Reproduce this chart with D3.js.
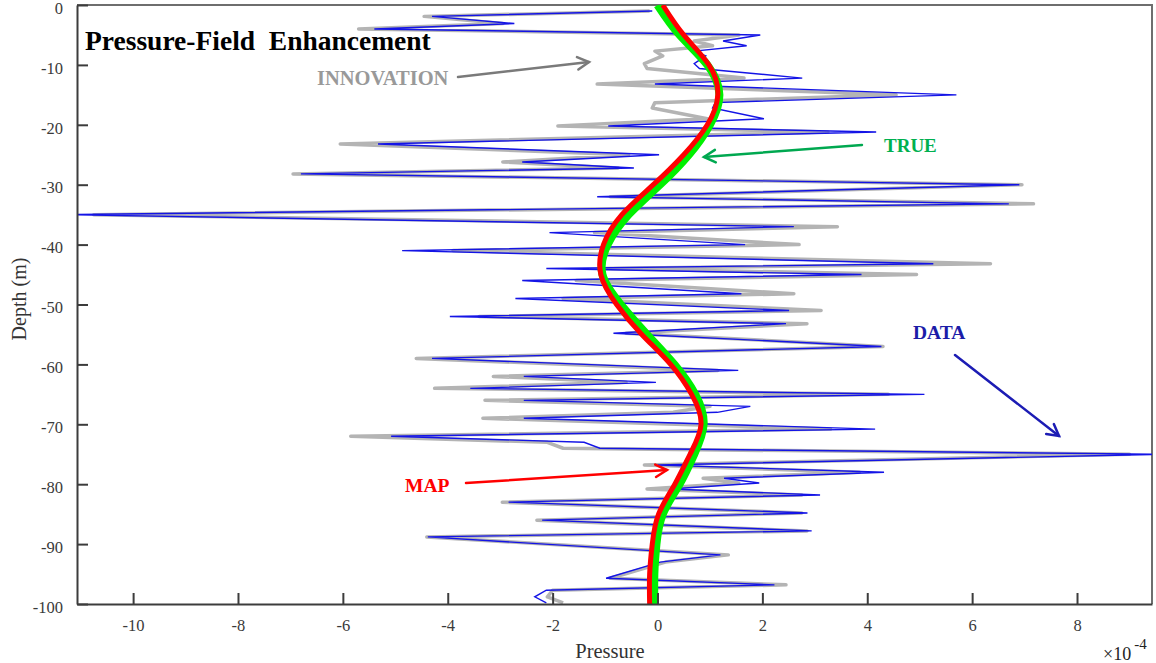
<!DOCTYPE html>
<html>
<head>
<meta charset="utf-8">
<script src="https://cdn.jsdelivr.net/npm/d3@7/dist/d3.min.js"></script>
<style>
  body { margin: 0; background: #fff; }
  svg { display: block; font-family: "Liberation Serif", "DejaVu Serif", serif; }
  .axis path, .axis line { stroke: #3c3c3c; stroke-width: 2; }
</style>
</head>
<body>
<div id="chart"></div>
<script>
var W = 1156, H = 663;

// measurement depths (m) and pressure (x 1e-4)
var depths = [-1.0,-1.9,-3.1,-4.0,-5.0,-6.0,-6.8,-7.7,-8.5,-9.8,-10.6,-12.2,-13.2,-15.0,-16.3,-17.2,-19.0,-20.2,-21.2,-23.2,
  -25.0,-26.2,-27.2,-28.2,-30.0,-32.0,-33.2,-35.0,-37.0,-38.0,-40.0,-41.0,-43.2,-44.0,-45.0,-46.0,-48.2,-49.0,-51.0,-52.0,
  -53.2,-54.8,-57.0,-59.0,-61.0,-62.0,-63.0,-64.0,-65.0,-66.0,-67.0,-68.0,-69.0,-70.8,-72.0,-73.0,-74.0,-75.0,-76.8,-78.0,
  -79.0,-79.8,-80.8,-81.8,-83.0,-84.8,-86.0,-87.8,-88.8,-91.8,-93.0,-95.7,-96.8,-97.7,-98.8,-99.8];
var dataVals = [-0.10,-4.30,-2.73,-5.40,1.96,1.25,1.70,0.70,0.92,0.70,0.80,2.76,-0.05,5.70,1.10,1.05,2.03,-0.94,4.17,-5.33,
  0.03,-2.58,-0.45,-6.80,6.90,-1.15,6.70,-11.30,2.60,-2.06,1.67,-4.87,5.26,-2.12,3.89,-2.58,1.60,-2.71,2.51,-3.96,
  2.45,-0.84,4.27,-4.30,1.54,-2.55,-0.03,-3.57,5.09,-2.55,1.77,1.14,-2.55,4.15,-5.08,-1.40,-1.10,9.60,0.00,4.32,
  1.27,1.94,0.24,3.10,-2.84,2.86,-2.20,2.94,-4.38,1.20,0.05,-0.98,2.23,-2.12,-2.34,-2.12];
var innovVals = [-0.15,-4.45,-2.95,-5.70,1.55,0.70,1.05,-0.05,0.10,-0.25,-0.20,1.65,-1.15,4.55,-0.05,-0.10,0.95,-1.90,3.25,-6.05,
  -0.55,-2.95,-0.75,-6.95,6.95,-0.90,7.17,-10.75,3.43,-1.20,2.70,-3.90,6.35,-1.05,4.94,-1.55,2.60,-1.80,3.12,-3.40,
  2.85,-0.60,4.30,-4.60,1.15,-3.13,-0.60,-4.25,4.40,-3.29,1.00,0.30,-3.33,3.30,-5.85,-2.10,-1.80,9.00,-0.25,3.85,
  0.87,1.55,-0.20,2.75,-2.96,2.75,-2.30,2.85,-4.40,1.35,0.15,-0.90,2.45,-2.00,-2.10,-1.80];

// smooth profiles
var curveDepths = [0,-5,-10,-15,-20,-25,-30,-35,-40,-45,-50,-55,-60,-65,-70,-75,-80,-85,-90,-95,-100];
var trueVals = [0.00,0.42,0.95,1.18,1.00,0.60,0.05,-0.55,-0.95,-1.05,-0.70,-0.20,0.32,0.72,0.88,0.70,0.42,0.10,-0.02,-0.06,-0.06];
var mapVals  = [0.10,0.50,0.98,1.15,0.95,0.50,-0.08,-0.68,-1.03,-1.08,-0.78,-0.30,0.25,0.65,0.83,0.62,0.33,0.02,-0.10,-0.15,-0.15];

var xTicks = [-10,-8,-6,-4,-2,0,2,4,6,8];
var yTicks = [0,-10,-20,-30,-40,-50,-60,-70,-80,-90,-100];

var svg = d3.select("#chart").append("svg")
  .attr("width", W)
  .attr("height", H);

var x = d3.scaleLinear().domain([-11.07, 9.43]).range([77, 1152]);
var y = d3.scaleLinear().domain([0, -100]).range([5, 604]);

svg.append("clipPath").attr("id", "clip")
  .append("rect")
  .attr("x", 77).attr("y", 5)
  .attr("width", 1152 - 77).attr("height", 604 - 5);

// frame (top and right)
svg.append("path")
  .attr("d", "M77,5H1152V604")
  .attr("fill", "none")
  .attr("stroke", "#6e6e6e")
  .attr("stroke-width", 2);

var plot = svg.append("g").attr("clip-path", "url(#clip)");

var pts = function(vals, ds){ return vals.map(function(v, i){ return [v, ds[i]]; }); };

var zig = d3.line()
  .x(function(d){ return x(d[0]); })
  .y(function(d){ return y(d[1]); });

var smooth = d3.line()
  .x(function(d){ return x(d[0]); })
  .y(function(d){ return y(d[1]); })
  .curve(d3.curveNatural);

plot.append("path")
  .datum(pts(innovVals, depths))
  .attr("d", zig)
  .attr("fill", "none")
  .attr("stroke", "#b4b4b4")
  .attr("stroke-width", 3.5)
  .attr("stroke-linejoin", "round");

plot.append("path")
  .datum(pts(dataVals, depths))
  .attr("d", zig)
  .attr("fill", "none")
  .attr("stroke", "#1414e6")
  .attr("stroke-width", 1.4);

plot.append("path")
  .datum(pts(trueVals, curveDepths))
  .attr("d", smooth)
  .attr("fill", "none")
  .attr("stroke", "#00f000")
  .attr("stroke-width", 8);

plot.append("path")
  .datum(pts(mapVals, curveDepths))
  .attr("d", smooth)
  .attr("fill", "none")
  .attr("stroke", "#ff0000")
  .attr("stroke-width", 5);

// axes
var fmt = function(d){ return String(d); };

svg.append("g")
  .attr("class", "axis")
  .attr("transform", "translate(77,0)")
  .call(d3.axisLeft(y).tickValues(yTicks).tickFormat(fmt).tickSize(-11).tickPadding(14).tickSizeOuter(0));

svg.append("g")
  .attr("class", "axis")
  .attr("transform", "translate(0,604)")
  .call(d3.axisBottom(x).tickValues(xTicks).tickFormat(fmt).tickSize(-11).tickPadding(15).tickSizeOuter(0));

svg.selectAll(".axis text")
  .attr("font-family", "Liberation Serif, serif")
  .attr("font-size", "16.5px")
  .attr("fill", "#3a3a3a");
svg.selectAll(".axis").filter(function(d, i){ return i === 0; })
  .selectAll("text").attr("dy", "0.5em");

// axis titles
svg.append("text")
  .attr("x", 610).attr("y", 658)
  .attr("text-anchor", "middle")
  .attr("font-size", "20.5px")
  .attr("fill", "#333")
  .text("Pressure");

svg.append("text")
  .attr("transform", "translate(26,299) rotate(-90)")
  .attr("text-anchor", "middle")
  .attr("font-size", "20px")
  .attr("fill", "#333")
  .text("Depth (m)");

var mult = svg.append("text")
  .attr("x", 1103).attr("y", 660)
  .attr("font-size", "18px")
  .attr("fill", "#222");
mult.append("tspan").text("\u00d710");
mult.append("tspan").attr("dy", -11).attr("dx", 3).attr("font-size", "15px").text("-4");

// title
svg.append("text")
  .attr("x", 85).attr("y", 50)
  .attr("font-size", "27.5px")
  .attr("font-weight", "bold")
  .attr("fill", "#000")
  .style("white-space", "pre")
  .text("Pressure-Field  Enhancement");

// annotations
function arrow(x1, y1, x2, y2, color){
  var a = Math.atan2(y2 - y1, x2 - x1), L = 13, s = 0.5;
  var g = svg.append("g")
    .attr("stroke", color).attr("stroke-width", 2.5)
    .attr("fill", "none").attr("stroke-linecap", "round");
  g.append("line").attr("x1", x1).attr("y1", y1).attr("x2", x2).attr("y2", y2);
  g.append("path").attr("d",
    "M" + (x2 - L * Math.cos(a - s)) + "," + (y2 - L * Math.sin(a - s)) +
    "L" + x2 + "," + y2 +
    "L" + (x2 - L * Math.cos(a + s)) + "," + (y2 - L * Math.sin(a + s)));
}

function label(tx, ty, txt, color, size){
  svg.append("text")
    .attr("x", tx).attr("y", ty)
    .attr("font-size", size + "px")
    .attr("font-weight", "bold")
    .attr("fill", color)
    .text(txt);
}

label(317, 85, "INNOVATION", "#999999", 20.5);
arrow(458, 77, 589, 62, "#7a7a7a");

label(884, 152, "TRUE", "#00b050", 19);
arrow(862, 145, 704, 157, "#00a850");

label(913, 339, "DATA", "#1c1ca8", 19.5);
arrow(955, 355, 1059, 436, "#1c1cb4");

label(405, 492, "MAP", "#ff0000", 19.5);
arrow(466, 483, 667, 470, "#ff0000");
</script>
</body>
</html>
